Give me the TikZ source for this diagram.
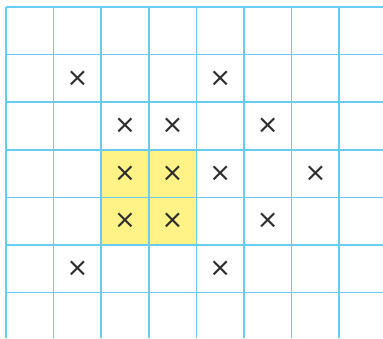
\documentclass[tikz,border=0pt]{standalone}
\usepackage{fontspec}
\newfontfamily\markfont{DejaVu Sans}
\definecolor{gridblue}{RGB}{104,204,240}
\definecolor{cellyellow}{RGB}{255,243,135}
\definecolor{markgray}{RGB}{45,45,45}
\begin{document}
\begin{tikzpicture}[x=1pt,y=-1pt,
  gridline/.style={draw=gridblue,line width=1.6pt},
  hilite/.style={fill=cellyellow,draw=none},
  mark x/.style={text=markgray,inner sep=0pt,font=\markfont\fontsize{26}{26}\selectfont}]
\useasboundingbox[fill=white] (0,0) rectangle (383,338);
\def\cw{47.6}
% yellow cells
\fill[hilite] (101.2,149.8) rectangle (196.4,245);
% grid
\foreach \i in {0,...,7} {
  \draw[gridline] ({6+\i*\cw},7) -- ({6+\i*\cw},338);
}
\foreach \j in {0,...,6} {
  \draw[gridline] (6,{7+\j*\cw}) -- (383,{7+\j*\cw});
}
% crosses: (col,row)
\foreach \c/\r [count=\k] in {1/1,4/1,2/2,3/2,5/2,2/3,3/3,4/3,6/3,2/4,3/4,5/4,1/5,4/5} {
  \node[mark x] (m\k) at ({6+(\c+0.5)*\cw},{7+(\r+0.5)*\cw}) {×};
}
\end{tikzpicture}
\end{document}
